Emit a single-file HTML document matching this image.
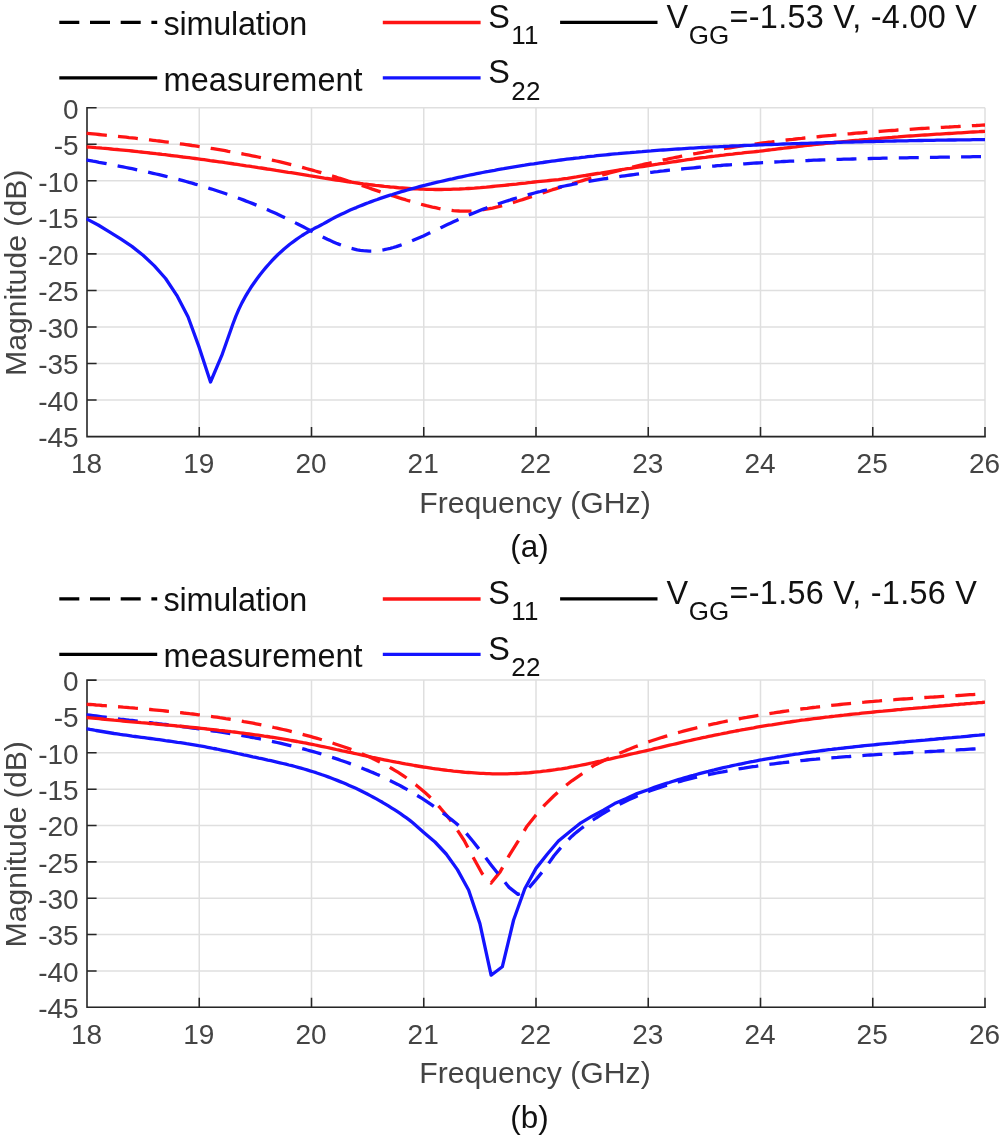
<!DOCTYPE html>
<html lang="en"><head><meta charset="utf-8"><title>S-parameters: simulation vs measurement</title>
<style>html,body{margin:0;padding:0;background:#fff}svg{display:block}text{font-family:"Liberation Sans",sans-serif}</style></head><body>
<svg width="1000" height="1135" viewBox="0 0 1000 1135">
<rect width="1000" height="1135" fill="#fff"/>
<g id="pa">
<path d="M87.00,107.70V436.60M199.25,107.70V436.60M311.50,107.70V436.60M423.75,107.70V436.60M536.00,107.70V436.60M648.25,107.70V436.60M760.50,107.70V436.60M872.75,107.70V436.60M985.00,107.70V436.60M87.00,107.70H985.00M87.00,144.24H985.00M87.00,180.79H985.00M87.00,217.33H985.00M87.00,253.88H985.00M87.00,290.42H985.00M87.00,326.97H985.00M87.00,363.51H985.00M87.00,400.06H985.00M87.00,436.60H985.00" stroke="#dfdfdf" stroke-width="1.5" fill="none"/>
<path d="M87.00,106.90V436.60H985.90M199.25,436.60v-9.6M311.50,436.60v-9.6M423.75,436.60v-9.6M536.00,436.60v-9.6M648.25,436.60v-9.6M760.50,436.60v-9.6M872.75,436.60v-9.6M985.00,436.60v-9.6M87.00,107.70h9.6M87.00,144.24h9.6M87.00,180.79h9.6M87.00,217.33h9.6M87.00,253.88h9.6M87.00,290.42h9.6M87.00,326.97h9.6M87.00,363.51h9.6M87.00,400.06h9.6" stroke="#262626" stroke-width="1.55" fill="none"/>
<clipPath id="clippa"><rect x="86.4" y="105.7" width="898.6" height="332.90000000000003"/></clipPath>
<g clip-path="url(#clippa)" fill="none" stroke-width="3.3" stroke-linejoin="round">
<path d="M86.3,133.26L87.3,133.36" stroke="#ff1414"/>
<path d="M87.0,133.3 L90.0,133.6 L93.0,133.9 L96.0,134.2 L99.0,134.5 L102.0,134.8 L105.0,135.1 L108.0,135.4 L111.0,135.7 L114.0,136.0 L117.0,136.3 L120.0,136.6 L123.0,136.9 L126.0,137.2 L129.0,137.6 L132.1,137.9 L135.1,138.2 L138.1,138.6 L141.1,138.9 L144.1,139.2 L147.1,139.6 L150.1,139.9 L153.1,140.3 L156.1,140.7 L159.1,141.0 L162.1,141.4 L165.1,141.8 L168.1,142.2 L171.1,142.6 L174.1,142.9 L177.1,143.4 L180.1,143.8 L183.1,144.2 L186.1,144.6 L189.1,145.0 L192.1,145.5 L195.1,145.9 L198.1,146.3 L201.1,146.8 L204.1,147.3 L207.1,147.7 L210.1,148.2 L213.1,148.7 L216.1,149.2 L219.1,149.7 L222.2,150.2 L225.2,150.7 L228.2,151.3 L231.2,151.8 L234.2,152.3 L237.2,152.9 L240.2,153.5 L243.2,154.0 L246.2,154.6 L249.2,155.2 L252.2,155.8 L255.2,156.4 L258.2,157.0 L261.2,157.7 L264.2,158.3 L267.2,159.0 L270.2,159.6 L273.2,160.3 L276.2,161.0 L279.2,161.7 L282.2,162.4 L285.2,163.1 L288.2,163.8 L291.2,164.6 L294.2,165.3 L297.2,166.1 L300.2,166.9 L303.2,167.7 L306.2,168.5 L309.2,169.3 L312.3,170.1 L315.3,171.0 L318.3,171.8 L321.3,172.7 L324.3,173.6 L327.3,174.5 L330.3,175.4 L333.3,176.3 L336.3,177.2 L339.3,178.2 L342.3,179.1 L345.3,180.1 L348.3,181.1 L351.3,182.0 L354.3,183.0 L357.3,184.0 L360.3,185.0 L363.3,186.0 L366.3,187.0 L369.3,188.0 L372.3,189.1 L375.3,190.1 L378.3,191.1 L381.3,192.1 L384.3,193.0 L387.3,194.0 L390.3,195.0 L393.3,196.0 L396.3,196.9 L399.3,197.9 L402.4,198.8 L405.4,199.7 L408.4,200.7 L411.4,201.5 L414.4,202.4 L417.4,203.3 L420.4,204.1 L423.4,204.9 L426.4,205.7 L429.4,206.4 L432.4,207.1 L435.4,207.7 L438.4,208.4 L441.4,208.9 L444.4,209.4 L447.4,209.9 L450.4,210.2 L453.4,210.6 L456.4,210.8 L459.4,211.0 L462.4,211.1 L465.4,211.2 L468.4,211.1 L471.4,211.0 L474.4,210.8 L477.4,210.5 L480.4,210.2 L483.4,209.7 L486.4,209.2 L489.4,208.7 L492.5,208.1 L495.5,207.4 L498.5,206.7 L501.5,205.9 L504.5,205.1 L507.5,204.2 L510.5,203.3 L513.5,202.4 L516.5,201.5 L519.5,200.5 L522.5,199.6 L525.5,198.6 L528.5,197.6 L531.5,196.6 L534.5,195.6 L537.5,194.6 L540.5,193.6 L543.5,192.6 L546.5,191.7 L549.5,190.7 L552.5,189.7 L555.5,188.8 L558.5,187.9 L561.5,186.9 L564.5,186.0 L567.5,185.1 L570.5,184.2 L573.5,183.3 L576.5,182.4 L579.5,181.5 L582.6,180.6 L585.6,179.7 L588.6,178.8 L591.6,178.0 L594.6,177.1 L597.6,176.3 L600.6,175.4 L603.6,174.6 L606.6,173.8 L609.6,173.0 L612.6,172.2 L615.6,171.4 L618.6,170.6 L621.6,169.8 L624.6,169.1 L627.6,168.3 L630.6,167.6 L633.6,166.8 L636.6,166.1 L639.6,165.4 L642.6,164.7 L645.6,163.9 L648.6,163.3 L651.6,162.6 L654.6,161.9 L657.6,161.2 L660.6,160.6 L663.6,159.9 L666.6,159.3 L669.6,158.6 L672.7,158.0 L675.7,157.4 L678.7,156.8 L681.7,156.2 L684.7,155.6 L687.7,155.0 L690.7,154.5 L693.7,153.9 L696.7,153.4 L699.7,152.8 L702.7,152.3 L705.7,151.7 L708.7,151.2 L711.7,150.7 L714.7,150.2 L717.7,149.7 L720.7,149.2 L723.7,148.7 L726.7,148.2 L729.7,147.8 L732.7,147.3 L735.7,146.8 L738.7,146.4 L741.7,145.9 L744.7,145.5 L747.7,145.1 L750.7,144.7 L753.7,144.2 L756.7,143.8 L759.7,143.4 L762.8,143.0 L765.8,142.6 L768.8,142.2 L771.8,141.9 L774.8,141.5 L777.8,141.1 L780.8,140.8 L783.8,140.4 L786.8,140.0 L789.8,139.7 L792.8,139.4 L795.8,139.0 L798.8,138.7 L801.8,138.4 L804.8,138.0 L807.8,137.7 L810.8,137.4 L813.8,137.1 L816.8,136.8 L819.8,136.5 L822.8,136.2 L825.8,135.9 L828.8,135.6 L831.8,135.4 L834.8,135.1 L837.8,134.8 L840.8,134.5 L843.8,134.3 L846.8,134.0 L849.8,133.8 L852.9,133.5 L855.9,133.2 L858.9,133.0 L861.9,132.8 L864.9,132.5 L867.9,132.3 L870.9,132.0 L873.9,131.8 L876.9,131.6 L879.9,131.4 L882.9,131.1 L885.9,130.9 L888.9,130.7 L891.9,130.5 L894.9,130.3 L897.9,130.0 L900.9,129.8 L903.9,129.7 L906.9,129.5 L909.9,129.3 L912.9,129.1 L915.9,128.9 L918.9,128.7 L921.9,128.5 L924.9,128.4 L927.9,128.2 L930.9,128.0 L933.9,127.8 L936.9,127.7 L939.9,127.5 L943.0,127.3 L946.0,127.1 L949.0,127.0 L952.0,126.8 L955.0,126.6 L958.0,126.5 L961.0,126.3 L964.0,126.1 L967.0,126.0 L970.0,125.8 L973.0,125.6 L976.0,125.5 L979.0,125.3 L982.0,125.1 L985.0,125.0" stroke="#ff1414" stroke-dasharray="19.95 11.2"/>
<path d="M86.3,159.97L87.3,160.15" stroke="#1414ff"/>
<path d="M87.0,160.1 L90.0,160.6 L93.0,161.2 L96.0,161.7 L99.0,162.3 L102.0,162.8 L105.0,163.4 L108.0,164.0 L111.0,164.5 L114.0,165.1 L117.0,165.7 L120.0,166.3 L123.0,166.9 L126.0,167.5 L129.0,168.1 L132.1,168.7 L135.1,169.3 L138.1,170.0 L141.1,170.6 L144.1,171.3 L147.1,171.9 L150.1,172.6 L153.1,173.3 L156.1,174.0 L159.1,174.7 L162.1,175.4 L165.1,176.1 L168.1,176.9 L171.1,177.6 L174.1,178.4 L177.1,179.1 L180.1,179.9 L183.1,180.7 L186.1,181.5 L189.1,182.4 L192.1,183.2 L195.1,184.1 L198.1,184.9 L201.1,185.8 L204.1,186.7 L207.1,187.6 L210.1,188.6 L213.1,189.5 L216.1,190.5 L219.1,191.5 L222.2,192.5 L225.2,193.5 L228.2,194.5 L231.2,195.5 L234.2,196.6 L237.2,197.7 L240.2,198.8 L243.2,199.9 L246.2,201.1 L249.2,202.2 L252.2,203.4 L255.2,204.6 L258.2,205.8 L261.2,207.1 L264.2,208.4 L267.2,209.6 L270.2,211.0 L273.2,212.3 L276.2,213.6 L279.2,215.0 L282.2,216.4 L285.2,217.8 L288.2,219.3 L291.2,220.7 L294.2,222.2 L297.2,223.7 L300.2,225.3 L303.2,226.8 L306.2,228.4 L309.2,230.0 L312.3,231.6 L315.3,233.2 L318.3,234.7 L321.3,236.2 L324.3,237.7 L327.3,239.2 L330.3,240.6 L333.3,241.9 L336.3,243.2 L339.3,244.4 L342.3,245.5 L345.3,246.6 L348.3,247.5 L351.3,248.4 L354.3,249.1 L357.3,249.8 L360.3,250.3 L363.3,250.7 L366.3,250.9 L369.3,251.1 L372.3,251.1 L375.3,250.9 L378.3,250.6 L381.3,250.2 L384.3,249.7 L387.3,249.0 L390.3,248.3 L393.3,247.5 L396.3,246.6 L399.3,245.6 L402.4,244.5 L405.4,243.4 L408.4,242.3 L411.4,241.1 L414.4,239.8 L417.4,238.5 L420.4,237.2 L423.4,235.9 L426.4,234.5 L429.4,233.1 L432.4,231.7 L435.4,230.3 L438.4,228.9 L441.4,227.4 L444.4,226.0 L447.4,224.6 L450.4,223.2 L453.4,221.8 L456.4,220.4 L459.4,219.0 L462.4,217.7 L465.4,216.4 L468.4,215.1 L471.4,213.9 L474.4,212.7 L477.4,211.5 L480.4,210.3 L483.4,209.1 L486.4,208.0 L489.4,206.9 L492.5,205.8 L495.5,204.8 L498.5,203.8 L501.5,202.8 L504.5,201.8 L507.5,200.8 L510.5,199.9 L513.5,198.9 L516.5,198.0 L519.5,197.1 L522.5,196.3 L525.5,195.4 L528.5,194.6 L531.5,193.8 L534.5,193.0 L537.5,192.2 L540.5,191.5 L543.5,190.7 L546.5,190.0 L549.5,189.3 L552.5,188.6 L555.5,187.9 L558.5,187.3 L561.5,186.6 L564.5,186.0 L567.5,185.4 L570.5,184.8 L573.5,184.2 L576.5,183.6 L579.5,183.0 L582.6,182.5 L585.6,181.9 L588.6,181.4 L591.6,180.9 L594.6,180.4 L597.6,179.9 L600.6,179.4 L603.6,178.9 L606.6,178.5 L609.6,178.0 L612.6,177.5 L615.6,177.1 L618.6,176.7 L621.6,176.2 L624.6,175.8 L627.6,175.4 L630.6,175.0 L633.6,174.6 L636.6,174.2 L639.6,173.8 L642.6,173.4 L645.6,173.0 L648.6,172.6 L651.6,172.3 L654.6,171.9 L657.6,171.6 L660.6,171.2 L663.6,170.9 L666.6,170.5 L669.6,170.2 L672.7,169.9 L675.7,169.6 L678.7,169.3 L681.7,169.0 L684.7,168.7 L687.7,168.4 L690.7,168.1 L693.7,167.8 L696.7,167.5 L699.7,167.2 L702.7,167.0 L705.7,166.7 L708.7,166.5 L711.7,166.2 L714.7,166.0 L717.7,165.7 L720.7,165.5 L723.7,165.2 L726.7,165.0 L729.7,164.8 L732.7,164.6 L735.7,164.4 L738.7,164.2 L741.7,164.0 L744.7,163.8 L747.7,163.6 L750.7,163.4 L753.7,163.2 L756.7,163.0 L759.7,162.8 L762.8,162.6 L765.8,162.5 L768.8,162.3 L771.8,162.1 L774.8,162.0 L777.8,161.8 L780.8,161.7 L783.8,161.5 L786.8,161.4 L789.8,161.2 L792.8,161.1 L795.8,161.0 L798.8,160.8 L801.8,160.7 L804.8,160.6 L807.8,160.5 L810.8,160.3 L813.8,160.2 L816.8,160.1 L819.8,160.0 L822.8,159.9 L825.8,159.8 L828.8,159.7 L831.8,159.6 L834.8,159.5 L837.8,159.4 L840.8,159.3 L843.8,159.2 L846.8,159.1 L849.8,159.1 L852.9,159.0 L855.9,158.9 L858.9,158.8 L861.9,158.7 L864.9,158.7 L867.9,158.6 L870.9,158.5 L873.9,158.4 L876.9,158.4 L879.9,158.3 L882.9,158.2 L885.9,158.2 L888.9,158.1 L891.9,158.1 L894.9,158.0 L897.9,157.9 L900.9,157.9 L903.9,157.8 L906.9,157.8 L909.9,157.7 L912.9,157.7 L915.9,157.6 L918.9,157.6 L921.9,157.5 L924.9,157.5 L927.9,157.4 L930.9,157.4 L933.9,157.3 L936.9,157.3 L939.9,157.2 L943.0,157.2 L946.0,157.1 L949.0,157.1 L952.0,157.0 L955.0,157.0 L958.0,157.0 L961.0,156.9 L964.0,156.9 L967.0,156.8 L970.0,156.8 L973.0,156.7 L976.0,156.7 L979.0,156.6 L982.0,156.6 L985.0,156.5" stroke="#1414ff" stroke-dasharray="19.95 11.2"/>
<path d="M86.3,146.91L87.3,146.98" stroke="#ff1414"/>
<path d="M87.0,147.0 L90.0,147.2 L93.0,147.4 L96.0,147.7 L99.0,147.9 L102.0,148.2 L105.0,148.4 L108.0,148.7 L111.0,149.0 L114.0,149.3 L117.0,149.5 L120.0,149.8 L123.0,150.1 L126.0,150.4 L129.0,150.7 L132.1,151.0 L135.1,151.3 L138.1,151.7 L141.1,152.0 L144.1,152.3 L147.1,152.6 L150.1,153.0 L153.1,153.3 L156.1,153.7 L159.1,154.0 L162.1,154.4 L165.1,154.7 L168.1,155.1 L171.1,155.5 L174.1,155.8 L177.1,156.2 L180.1,156.6 L183.1,157.0 L186.1,157.3 L189.1,157.7 L192.1,158.1 L195.1,158.5 L198.1,158.9 L201.1,159.3 L204.1,159.7 L207.1,160.1 L210.1,160.6 L213.1,161.0 L216.1,161.4 L219.1,161.8 L222.2,162.2 L225.2,162.7 L228.2,163.1 L231.2,163.5 L234.2,164.0 L237.2,164.4 L240.2,164.9 L243.2,165.3 L246.2,165.8 L249.2,166.2 L252.2,166.7 L255.2,167.1 L258.2,167.6 L261.2,168.0 L264.2,168.5 L267.2,169.0 L270.2,169.4 L273.2,169.9 L276.2,170.4 L279.2,170.8 L282.2,171.3 L285.2,171.8 L288.2,172.3 L291.2,172.7 L294.2,173.2 L297.2,173.7 L300.2,174.2 L303.2,174.7 L306.2,175.2 L309.2,175.7 L312.3,176.1 L315.3,176.6 L318.3,177.1 L321.3,177.6 L324.3,178.1 L327.3,178.5 L330.3,179.0 L333.3,179.5 L336.3,180.0 L339.3,180.4 L342.3,180.9 L345.3,181.3 L348.3,181.8 L351.3,182.2 L354.3,182.6 L357.3,183.0 L360.3,183.5 L363.3,183.9 L366.3,184.2 L369.3,184.6 L372.3,185.0 L375.3,185.4 L378.3,185.7 L381.3,186.0 L384.3,186.4 L387.3,186.7 L390.3,187.0 L393.3,187.2 L396.3,187.5 L399.3,187.8 L402.4,188.0 L405.4,188.2 L408.4,188.4 L411.4,188.6 L414.4,188.8 L417.4,188.9 L420.4,189.1 L423.4,189.2 L426.4,189.3 L429.4,189.4 L432.4,189.4 L435.4,189.5 L438.4,189.5 L441.4,189.5 L444.4,189.4 L447.4,189.4 L450.4,189.3 L453.4,189.2 L456.4,189.1 L459.4,189.0 L462.4,188.8 L465.4,188.7 L468.4,188.5 L471.4,188.3 L474.4,188.1 L477.4,187.8 L480.4,187.6 L483.4,187.3 L486.4,187.1 L489.4,186.8 L492.5,186.5 L495.5,186.2 L498.5,185.9 L501.5,185.6 L504.5,185.3 L507.5,185.0 L510.5,184.7 L513.5,184.4 L516.5,184.1 L519.5,183.7 L522.5,183.4 L525.5,183.1 L528.5,182.7 L531.5,182.4 L534.5,182.0 L537.5,181.7 L540.5,181.4 L543.5,181.1 L546.5,180.8 L549.5,180.5 L552.5,180.2 L555.5,179.9 L558.5,179.6 L561.5,179.2 L564.5,178.7 L567.5,178.3 L570.5,177.8 L573.5,177.3 L576.5,176.9 L579.5,176.4 L582.6,175.9 L585.6,175.5 L588.6,175.0 L591.6,174.5 L594.6,174.0 L597.6,173.5 L600.6,173.1 L603.6,172.6 L606.6,172.1 L609.6,171.6 L612.6,171.1 L615.6,170.6 L618.6,170.1 L621.6,169.6 L624.6,169.2 L627.6,168.7 L630.6,168.3 L633.6,167.8 L636.6,167.4 L639.6,166.9 L642.6,166.5 L645.6,166.0 L648.6,165.5 L651.6,165.1 L654.6,164.6 L657.6,164.2 L660.6,163.7 L663.6,163.3 L666.6,162.8 L669.6,162.4 L672.7,161.9 L675.7,161.5 L678.7,161.0 L681.7,160.6 L684.7,160.2 L687.7,159.7 L690.7,159.3 L693.7,158.9 L696.7,158.4 L699.7,158.0 L702.7,157.6 L705.7,157.3 L708.7,156.9 L711.7,156.5 L714.7,156.2 L717.7,155.8 L720.7,155.4 L723.7,155.1 L726.7,154.7 L729.7,154.4 L732.7,154.1 L735.7,153.7 L738.7,153.4 L741.7,153.1 L744.7,152.7 L747.7,152.4 L750.7,152.1 L753.7,151.8 L756.7,151.5 L759.7,151.2 L762.8,150.8 L765.8,150.4 L768.8,150.0 L771.8,149.7 L774.8,149.3 L777.8,148.9 L780.8,148.5 L783.8,148.2 L786.8,147.8 L789.8,147.5 L792.8,147.1 L795.8,146.8 L798.8,146.4 L801.8,146.1 L804.8,145.7 L807.8,145.4 L810.8,145.1 L813.8,144.7 L816.8,144.4 L819.8,144.1 L822.8,143.8 L825.8,143.4 L828.8,143.1 L831.8,142.8 L834.8,142.5 L837.8,142.2 L840.8,141.9 L843.8,141.6 L846.8,141.3 L849.8,141.0 L852.9,140.7 L855.9,140.4 L858.9,140.2 L861.9,139.9 L864.9,139.6 L867.9,139.4 L870.9,139.1 L873.9,138.9 L876.9,138.6 L879.9,138.4 L882.9,138.1 L885.9,137.8 L888.9,137.6 L891.9,137.4 L894.9,137.1 L897.9,136.9 L900.9,136.6 L903.9,136.4 L906.9,136.2 L909.9,136.0 L912.9,135.8 L915.9,135.6 L918.9,135.4 L921.9,135.2 L924.9,135.0 L927.9,134.8 L930.9,134.6 L933.9,134.4 L936.9,134.2 L939.9,134.1 L943.0,133.9 L946.0,133.7 L949.0,133.5 L952.0,133.3 L955.0,133.1 L958.0,132.9 L961.0,132.8 L964.0,132.6 L967.0,132.4 L970.0,132.2 L973.0,132.0 L976.0,131.8 L979.0,131.7 L982.0,131.5 L985.0,131.3" stroke="#ff1414"/>
<path d="M86.3,218.73L87.3,219.26" stroke="#1414ff"/>
<path d="M87.0,219.1 L98.2,225.0 L109.4,231.8 L120.7,238.9 L131.9,246.4 L143.1,255.3 L154.4,265.9 L165.6,278.5 L176.8,295.3 L188.0,316.8 L199.2,347.4 L210.5,382.0 L221.7,355.7 L232.9,324.0 L235.9,316.1 L238.9,309.1 L241.9,302.9 L245.0,297.2 L248.0,292.1 L251.0,287.3 L254.0,283.0 L257.0,278.8 L260.0,274.8 L263.0,271.0 L266.0,267.4 L269.0,264.0 L272.0,260.7 L275.0,257.5 L278.0,254.5 L281.1,251.7 L284.1,249.0 L287.1,246.5 L290.1,244.0 L293.1,241.8 L296.1,239.6 L299.1,237.5 L302.1,235.5 L305.1,233.7 L308.1,231.9 L311.1,230.2 L314.1,228.6 L317.2,227.1 L320.2,225.5 L323.2,223.9 L326.2,222.2 L329.2,220.5 L332.2,218.9 L335.2,217.3 L338.2,215.8 L341.2,214.3 L344.2,212.9 L347.2,211.5 L350.2,210.1 L353.3,208.8 L356.3,207.6 L359.3,206.3 L362.3,205.1 L365.3,203.9 L368.3,202.8 L371.3,201.6 L374.3,200.5 L377.3,199.5 L380.3,198.4 L383.3,197.4 L386.3,196.4 L389.4,195.4 L392.4,194.5 L395.4,193.5 L398.4,192.6 L401.4,191.7 L404.4,190.8 L407.4,190.0 L410.4,189.1 L413.4,188.3 L416.4,187.5 L419.4,186.7 L422.4,185.9 L425.5,185.2 L428.5,184.4 L431.5,183.7 L434.5,182.9 L437.5,182.2 L440.5,181.5 L443.5,180.8 L446.5,180.1 L449.5,179.4 L452.5,178.8 L455.5,178.1 L458.5,177.4 L461.6,176.8 L464.6,176.2 L467.6,175.5 L470.6,174.9 L473.6,174.3 L476.6,173.7 L479.6,173.1 L482.6,172.5 L485.6,171.9 L488.6,171.4 L491.6,170.8 L494.6,170.3 L497.7,169.7 L500.7,169.2 L503.7,168.7 L506.7,168.1 L509.7,167.6 L512.7,167.1 L515.7,166.6 L518.7,166.1 L521.7,165.6 L524.7,165.2 L527.7,164.7 L530.7,164.2 L533.8,163.8 L536.8,163.3 L539.8,162.9 L542.8,162.5 L545.8,162.0 L548.8,161.6 L551.8,161.2 L554.8,160.8 L557.8,160.4 L560.8,160.0 L563.8,159.6 L566.8,159.2 L569.9,158.8 L572.9,158.5 L575.9,158.1 L578.9,157.8 L581.9,157.4 L584.9,157.1 L587.9,156.7 L590.9,156.4 L593.9,156.1 L596.9,155.7 L599.9,155.4 L602.9,155.1 L606.0,154.8 L609.0,154.5 L612.0,154.2 L615.0,153.9 L618.0,153.7 L621.0,153.4 L624.0,153.1 L627.0,152.8 L630.0,152.6 L633.0,152.3 L636.0,152.1 L639.0,151.8 L642.1,151.6 L645.1,151.3 L648.1,151.1 L651.1,150.9 L654.1,150.6 L657.1,150.4 L660.1,150.2 L663.1,150.0 L666.1,149.8 L669.1,149.6 L672.1,149.4 L675.1,149.2 L678.2,149.0 L681.2,148.8 L684.2,148.6 L687.2,148.4 L690.2,148.2 L693.2,148.1 L696.2,147.9 L699.2,147.7 L702.2,147.5 L705.2,147.4 L708.2,147.2 L711.2,147.1 L714.3,146.9 L717.3,146.8 L720.3,146.6 L723.3,146.5 L726.3,146.3 L729.3,146.2 L732.3,146.0 L735.3,145.9 L738.3,145.8 L741.3,145.6 L744.3,145.5 L747.3,145.4 L750.4,145.3 L753.4,145.1 L756.4,145.0 L759.4,144.9 L762.4,144.8 L765.4,144.7 L768.4,144.6 L771.4,144.5 L774.4,144.4 L777.4,144.3 L780.4,144.1 L783.4,144.0 L786.5,143.9 L789.5,143.8 L792.5,143.7 L795.5,143.6 L798.5,143.6 L801.5,143.5 L804.5,143.4 L807.5,143.3 L810.5,143.2 L813.5,143.1 L816.5,143.0 L819.5,142.9 L822.6,142.8 L825.6,142.7 L828.6,142.6 L831.6,142.6 L834.6,142.5 L837.6,142.4 L840.6,142.3 L843.6,142.2 L846.6,142.1 L849.6,142.1 L852.6,142.0 L855.6,141.9 L858.7,141.8 L861.7,141.8 L864.7,141.7 L867.7,141.6 L870.7,141.5 L873.7,141.5 L876.7,141.4 L879.7,141.3 L882.7,141.3 L885.7,141.2 L888.7,141.1 L891.7,141.1 L894.8,141.0 L897.8,140.9 L900.8,140.9 L903.8,140.8 L906.8,140.8 L909.8,140.7 L912.8,140.6 L915.8,140.6 L918.8,140.5 L921.8,140.5 L924.8,140.4 L927.8,140.4 L930.9,140.3 L933.9,140.3 L936.9,140.2 L939.9,140.2 L942.9,140.1 L945.9,140.1 L948.9,140.0 L951.9,140.0 L954.9,140.0 L957.9,139.9 L960.9,139.9 L963.9,139.8 L967.0,139.8 L970.0,139.8 L973.0,139.7 L976.0,139.7 L979.0,139.7 L982.0,139.6 L985.0,139.6" stroke="#1414ff"/>
</g>
<g font-size="28" fill="#444">
<text x="78.6" y="118.5" text-anchor="end">0</text>
<text x="78.6" y="155.0" text-anchor="end">-5</text>
<text x="78.6" y="191.6" text-anchor="end">-10</text>
<text x="78.6" y="228.1" text-anchor="end">-15</text>
<text x="78.6" y="264.7" text-anchor="end">-20</text>
<text x="78.6" y="301.2" text-anchor="end">-25</text>
<text x="78.6" y="337.8" text-anchor="end">-30</text>
<text x="78.6" y="374.3" text-anchor="end">-35</text>
<text x="78.6" y="410.9" text-anchor="end">-40</text>
<text x="78.6" y="447.4" text-anchor="end">-45</text>
<text x="86.5" y="473.2" text-anchor="middle">18</text>
<text x="198.8" y="473.2" text-anchor="middle">19</text>
<text x="311.0" y="473.2" text-anchor="middle">20</text>
<text x="423.2" y="473.2" text-anchor="middle">21</text>
<text x="535.5" y="473.2" text-anchor="middle">22</text>
<text x="647.8" y="473.2" text-anchor="middle">23</text>
<text x="760.0" y="473.2" text-anchor="middle">24</text>
<text x="872.2" y="473.2" text-anchor="middle">25</text>
<text x="984.5" y="473.2" text-anchor="middle">26</text>
</g>
<text x="535" y="512.6" font-size="30.2" fill="#444" text-anchor="middle">Frequency (GHz)</text>
<text transform="translate(26.4,272.8) rotate(-90)" font-size="30.2" fill="#444" text-anchor="middle">Magnitude (dB)</text>
<text x="529.5" y="557.0" font-size="31.4" fill="#111" text-anchor="middle">(a)</text>
<g fill="none" stroke-width="3.3">
<path d="M59.3,22.4H157.2" stroke="#000" stroke-dasharray="20 10.7"/>
<path d="M59.3,77.8H157.2" stroke="#000"/>
<path d="M382.8,22.5H480.6" stroke="#ff1414"/>
<path d="M382.8,77.8H480.6" stroke="#1414ff"/>
<path d="M560.1,22.4H657.5" stroke="#000"/>
</g>
<g font-size="32.4" fill="#111">
<text x="163.6" y="34.8" letter-spacing="-0.25">simulation</text>
<text x="163.6" y="90.6" letter-spacing="0.1">measurement</text>
<text x="488.3" y="27.6">S<tspan font-size="26" dx="1.3" dy="16.2" letter-spacing="0.3">11</tspan></text>
<text x="488.3" y="83.2">S<tspan font-size="26" dx="1.3" dy="16.6" letter-spacing="0.3">22</tspan></text>
<text x="666.6" y="27.5">V<tspan font-size="26" x="688.8" dy="16.2">GG</tspan><tspan x="729.6" dy="-16.2" letter-spacing="0.28">=-1.53 V, -4.00 V</tspan></text>
</g>
</g>
<g id="pb">
<path d="M87.00,680.10V1007.30M199.25,680.10V1007.30M311.50,680.10V1007.30M423.75,680.10V1007.30M536.00,680.10V1007.30M648.25,680.10V1007.30M760.50,680.10V1007.30M872.75,680.10V1007.30M985.00,680.10V1007.30M87.00,680.10H985.00M87.00,716.46H985.00M87.00,752.81H985.00M87.00,789.17H985.00M87.00,825.52H985.00M87.00,861.88H985.00M87.00,898.23H985.00M87.00,934.59H985.00M87.00,970.94H985.00M87.00,1007.30H985.00" stroke="#dfdfdf" stroke-width="1.5" fill="none"/>
<path d="M87.00,679.30V1007.30H985.90M199.25,1007.30v-9.6M311.50,1007.30v-9.6M423.75,1007.30v-9.6M536.00,1007.30v-9.6M648.25,1007.30v-9.6M760.50,1007.30v-9.6M872.75,1007.30v-9.6M985.00,1007.30v-9.6M87.00,680.10h9.6M87.00,716.46h9.6M87.00,752.81h9.6M87.00,789.17h9.6M87.00,825.52h9.6M87.00,861.88h9.6M87.00,898.23h9.6M87.00,934.59h9.6M87.00,970.94h9.6" stroke="#262626" stroke-width="1.55" fill="none"/>
<clipPath id="clippb"><rect x="86.4" y="678.1" width="898.6" height="331.19999999999993"/></clipPath>
<g clip-path="url(#clippb)" fill="none" stroke-width="3.3" stroke-linejoin="round">
<path d="M86.3,704.22L87.3,704.30" stroke="#ff1414"/>
<path d="M87.0,704.3 L90.0,704.5 L93.0,704.7 L96.1,705.0 L99.1,705.2 L102.1,705.5 L105.1,705.7 L108.1,705.9 L111.1,706.2 L114.2,706.4 L117.2,706.7 L120.2,706.9 L123.2,707.2 L126.2,707.4 L129.3,707.7 L132.3,707.9 L135.3,708.2 L138.3,708.4 L141.3,708.7 L144.3,709.0 L147.4,709.3 L150.4,709.5 L153.4,709.8 L156.4,710.1 L159.4,710.4 L162.5,710.7 L165.5,711.0 L168.5,711.3 L171.5,711.6 L174.5,711.9 L177.5,712.3 L180.6,712.6 L183.6,713.0 L186.6,713.3 L189.6,713.7 L192.6,714.0 L195.6,714.4 L198.7,714.8 L201.7,715.2 L204.7,715.6 L207.7,716.0 L210.7,716.4 L213.8,716.8 L216.8,717.2 L219.8,717.7 L222.8,718.1 L225.8,718.6 L228.8,719.0 L231.9,719.5 L234.9,720.0 L237.9,720.5 L240.9,721.0 L243.9,721.6 L247.0,722.1 L250.0,722.6 L253.0,723.2 L256.0,723.8 L259.0,724.4 L262.0,725.0 L265.1,725.6 L268.1,726.2 L271.1,726.8 L274.1,727.5 L277.1,728.1 L280.2,728.8 L283.2,729.5 L286.2,730.2 L289.2,730.9 L292.2,731.7 L295.2,732.4 L298.3,733.2 L301.3,734.0 L304.3,734.8 L307.3,735.6 L310.3,736.4 L313.4,737.3 L316.4,738.1 L319.4,739.0 L322.4,739.9 L325.4,740.8 L328.4,741.8 L331.5,742.7 L334.5,743.7 L337.5,744.7 L340.5,745.7 L343.5,746.7 L346.6,747.8 L349.6,748.9 L352.6,750.0 L355.6,751.2 L358.6,752.4 L361.6,753.6 L364.7,754.9 L367.7,756.2 L370.7,757.5 L373.7,759.0 L376.7,760.4 L379.7,761.9 L382.8,763.5 L385.8,765.1 L388.8,766.8 L391.8,768.5 L394.8,770.3 L397.9,772.2 L400.9,774.1 L403.9,776.1 L406.9,778.2 L409.9,780.4 L412.9,782.6 L416.0,784.9 L419.0,787.4 L422.0,789.9 L425.0,792.6 L428.0,795.3 L431.1,798.2 L434.1,801.2 L437.1,804.4 L440.1,807.7 L443.1,811.2 L446.1,814.8 L449.2,818.6 L452.2,822.5 L455.2,826.8 L464.2,840.5 L473.1,857.3 L482.1,873.5 L491.1,883.0 L500.1,871.9 L509.1,855.6 L518.0,841.4 L527.0,826.2 L536.0,815.0 L545.0,804.6 L554.0,795.8 L562.9,787.8 L571.9,780.8 L580.9,774.6 L589.9,768.8 L592.9,766.0 L595.9,764.4 L598.9,762.9 L602.0,761.4 L605.0,759.9 L608.0,758.5 L611.0,757.0 L614.0,755.7 L617.0,754.3 L620.1,753.0 L623.1,751.7 L626.1,750.4 L629.1,749.2 L632.1,748.0 L635.1,746.8 L638.2,745.7 L641.2,744.5 L644.2,743.4 L647.2,742.3 L650.2,741.3 L653.2,740.3 L656.3,739.3 L659.3,738.3 L662.3,737.3 L665.3,736.4 L668.3,735.5 L671.3,734.6 L674.3,733.7 L677.4,732.8 L680.4,732.0 L683.4,731.2 L686.4,730.4 L689.4,729.6 L692.4,728.8 L695.5,728.1 L698.5,727.4 L701.5,726.6 L704.5,725.9 L707.5,725.3 L710.5,724.6 L713.6,723.9 L716.6,723.3 L719.6,722.6 L722.6,722.0 L725.6,721.4 L728.6,720.8 L731.7,720.2 L734.7,719.6 L737.7,719.0 L740.7,718.5 L743.7,717.9 L746.7,717.4 L749.7,716.8 L752.8,716.3 L755.8,715.8 L758.8,715.3 L761.8,714.8 L764.8,714.3 L767.8,713.8 L770.9,713.3 L773.9,712.9 L776.9,712.4 L779.9,712.0 L782.9,711.5 L785.9,711.1 L789.0,710.7 L792.0,710.2 L795.0,709.8 L798.0,709.4 L801.0,709.0 L804.0,708.6 L807.1,708.3 L810.1,707.9 L813.1,707.5 L816.1,707.2 L819.1,706.8 L822.1,706.4 L825.2,706.1 L828.2,705.8 L831.2,705.4 L834.2,705.1 L837.2,704.8 L840.2,704.5 L843.2,704.2 L846.3,703.9 L849.3,703.6 L852.3,703.3 L855.3,703.0 L858.3,702.7 L861.3,702.4 L864.4,702.2 L867.4,701.9 L870.4,701.6 L873.4,701.4 L876.4,701.1 L879.4,700.9 L882.5,700.6 L885.5,700.4 L888.5,700.1 L891.5,699.9 L894.5,699.7 L897.5,699.4 L900.6,699.2 L903.6,699.0 L906.6,698.8 L909.6,698.6 L912.6,698.4 L915.6,698.2 L918.6,697.9 L921.7,697.7 L924.7,697.5 L927.7,697.3 L930.7,697.1 L933.7,697.0 L936.7,696.8 L939.8,696.6 L942.8,696.4 L945.8,696.2 L948.8,696.0 L951.8,695.8 L954.8,695.6 L957.9,695.5 L960.9,695.3 L963.9,695.1 L966.9,694.9 L969.9,694.7 L972.9,694.6 L976.0,694.4 L979.0,694.2 L982.0,694.0 L985.0,693.9" stroke="#ff1414" stroke-dasharray="19.95 11.2"/>
<path d="M86.3,714.69L87.3,714.82" stroke="#1414ff"/>
<path d="M87.0,714.8 L90.0,715.2 L93.0,715.6 L96.1,716.0 L99.1,716.4 L102.1,716.8 L105.1,717.2 L108.1,717.6 L111.1,718.0 L114.2,718.3 L117.2,718.7 L120.2,719.1 L123.2,719.4 L126.2,719.8 L129.2,720.2 L132.3,720.5 L135.3,720.9 L138.3,721.3 L141.3,721.6 L144.3,722.0 L147.4,722.4 L150.4,722.7 L153.4,723.1 L156.4,723.4 L159.4,723.8 L162.4,724.2 L165.5,724.5 L168.5,724.9 L171.5,725.3 L174.5,725.7 L177.5,726.0 L180.5,726.4 L183.6,726.8 L186.6,727.2 L189.6,727.6 L192.6,728.0 L195.6,728.4 L198.7,728.8 L201.7,729.2 L204.7,729.7 L207.7,730.1 L210.7,730.5 L213.7,731.0 L216.8,731.4 L219.8,731.9 L222.8,732.4 L225.8,732.8 L228.8,733.3 L231.8,733.8 L234.9,734.3 L237.9,734.8 L240.9,735.3 L243.9,735.9 L246.9,736.4 L250.0,737.0 L253.0,737.5 L256.0,738.1 L259.0,738.7 L262.0,739.3 L265.0,739.9 L268.1,740.5 L271.1,741.2 L274.1,741.8 L277.1,742.5 L280.1,743.2 L283.1,743.9 L286.2,744.6 L289.2,745.3 L292.2,746.0 L295.2,746.8 L298.2,747.5 L301.2,748.3 L304.3,749.1 L307.3,750.0 L310.3,750.8 L313.3,751.6 L316.3,752.5 L319.4,753.4 L322.4,754.3 L325.4,755.2 L328.4,756.2 L331.4,757.2 L334.4,758.1 L337.5,759.1 L340.5,760.2 L343.5,761.2 L346.5,762.3 L349.5,763.4 L352.5,764.5 L355.6,765.6 L358.6,766.8 L361.6,768.0 L364.6,769.2 L367.6,770.4 L370.7,771.7 L373.7,772.9 L376.7,774.3 L379.7,775.6 L382.7,777.0 L385.7,778.4 L388.8,779.9 L391.8,781.4 L394.8,782.9 L397.8,784.4 L400.8,786.0 L403.8,787.7 L406.9,789.4 L409.9,791.1 L412.9,792.8 L415.9,794.7 L418.9,796.5 L422.0,798.4 L425.0,800.3 L428.0,802.3 L431.0,804.4 L434.0,806.5 L437.0,808.6 L440.1,810.8 L443.1,813.1 L446.1,815.4 L449.1,817.7 L452.1,820.1 L455.1,822.6 L458.2,825.1 L461.2,827.7 L464.2,830.8 L473.1,841.5 L482.1,853.0 L491.1,864.9 L500.1,876.3 L509.1,887.4 L518.0,894.4 L527.0,890.2 L536.0,879.6 L545.0,868.6 L554.0,855.8 L562.9,845.2 L571.9,836.2 L574.9,833.5 L577.9,831.1 L580.9,828.8 L584.0,826.5 L587.0,824.3 L590.0,822.1 L593.0,820.0 L596.0,818.0 L599.0,816.1 L602.1,814.2 L605.1,812.3 L608.1,810.6 L611.1,808.8 L614.1,807.2 L617.1,805.5 L620.1,804.0 L623.2,802.5 L626.2,801.0 L629.2,799.6 L632.2,798.2 L635.2,796.9 L638.2,795.6 L641.3,794.3 L644.3,793.1 L647.3,791.9 L650.3,790.8 L653.3,789.7 L656.3,788.6 L659.3,787.6 L662.4,786.6 L665.4,785.7 L668.4,784.7 L671.4,783.8 L674.4,783.0 L677.4,782.1 L680.5,781.3 L683.5,780.5 L686.5,779.7 L689.5,779.0 L692.5,778.2 L695.5,777.5 L698.5,776.8 L701.6,776.2 L704.6,775.5 L707.6,774.9 L710.6,774.2 L713.6,773.6 L716.6,773.0 L719.7,772.4 L722.7,771.9 L725.7,771.3 L728.7,770.7 L731.7,770.2 L734.7,769.7 L737.7,769.1 L740.8,768.6 L743.8,768.2 L746.8,767.7 L749.8,767.2 L752.8,766.7 L755.8,766.3 L758.9,765.8 L761.9,765.4 L764.9,765.0 L767.9,764.6 L770.9,764.2 L773.9,763.8 L776.9,763.4 L780.0,763.0 L783.0,762.7 L786.0,762.3 L789.0,762.0 L792.0,761.6 L795.0,761.3 L798.0,761.0 L801.1,760.6 L804.1,760.3 L807.1,760.0 L810.1,759.7 L813.1,759.4 L816.1,759.2 L819.2,758.9 L822.2,758.6 L825.2,758.4 L828.2,758.1 L831.2,757.8 L834.2,757.6 L837.2,757.4 L840.3,757.1 L843.3,756.9 L846.3,756.7 L849.3,756.5 L852.3,756.2 L855.3,756.0 L858.4,755.8 L861.4,755.6 L864.4,755.4 L867.4,755.2 L870.4,755.0 L873.4,754.8 L876.4,754.6 L879.5,754.4 L882.5,754.3 L885.5,754.1 L888.5,753.9 L891.5,753.7 L894.5,753.6 L897.6,753.4 L900.6,753.2 L903.6,753.0 L906.6,752.9 L909.6,752.7 L912.6,752.5 L915.6,752.4 L918.7,752.2 L921.7,752.0 L924.7,751.9 L927.7,751.7 L930.7,751.5 L933.7,751.3 L936.8,751.2 L939.8,751.0 L942.8,750.8 L945.8,750.7 L948.8,750.5 L951.8,750.3 L954.8,750.1 L957.9,749.9 L960.9,749.7 L963.9,749.6 L966.9,749.4 L969.9,749.2 L972.9,749.0 L976.0,748.8 L979.0,748.6 L982.0,748.4 L985.0,748.1" stroke="#1414ff" stroke-dasharray="19.95 11.2"/>
<path d="M86.3,717.41L87.3,717.51" stroke="#ff1414"/>
<path d="M87.0,717.5 L90.0,717.8 L93.0,718.1 L96.0,718.4 L99.0,718.7 L102.0,719.0 L105.0,719.3 L108.0,719.6 L111.0,719.9 L114.0,720.2 L117.0,720.4 L120.0,720.7 L123.0,721.0 L126.0,721.3 L129.0,721.6 L132.1,721.8 L135.1,722.1 L138.1,722.4 L141.1,722.7 L144.1,722.9 L147.1,723.2 L150.1,723.5 L153.1,723.7 L156.1,724.0 L159.1,724.3 L162.1,724.6 L165.1,724.8 L168.1,725.1 L171.1,725.4 L174.1,725.7 L177.1,726.0 L180.1,726.2 L183.1,726.5 L186.1,726.8 L189.1,727.1 L192.1,727.4 L195.1,727.7 L198.1,728.0 L201.1,728.3 L204.1,728.6 L207.1,729.0 L210.1,729.3 L213.1,729.6 L216.1,729.9 L219.1,730.3 L222.2,730.6 L225.2,731.0 L228.2,731.3 L231.2,731.7 L234.2,732.0 L237.2,732.4 L240.2,732.8 L243.2,733.2 L246.2,733.6 L249.2,734.0 L252.2,734.4 L255.2,734.8 L258.2,735.2 L261.2,735.6 L264.2,736.1 L267.2,736.5 L270.2,737.0 L273.2,737.4 L276.2,737.9 L279.2,738.4 L282.2,738.9 L285.2,739.4 L288.2,739.9 L291.2,740.5 L294.2,741.0 L297.2,741.5 L300.2,742.1 L303.2,742.7 L306.2,743.2 L309.2,743.8 L312.3,744.4 L315.3,745.0 L318.3,745.7 L321.3,746.3 L324.3,746.9 L327.3,747.5 L330.3,748.2 L333.3,748.8 L336.3,749.5 L339.3,750.1 L342.3,750.8 L345.3,751.4 L348.3,752.1 L351.3,752.7 L354.3,753.4 L357.3,754.0 L360.3,754.7 L363.3,755.3 L366.3,756.0 L369.3,756.6 L372.3,757.3 L375.3,757.9 L378.3,758.5 L381.3,759.2 L384.3,759.8 L387.3,760.4 L390.3,761.0 L393.3,761.6 L396.3,762.2 L399.3,762.7 L402.4,763.3 L405.4,763.9 L408.4,764.4 L411.4,764.9 L414.4,765.5 L417.4,766.0 L420.4,766.5 L423.4,767.0 L426.4,767.4 L429.4,767.9 L432.4,768.4 L435.4,768.8 L438.4,769.2 L441.4,769.6 L444.4,770.0 L447.4,770.4 L450.4,770.7 L453.4,771.1 L456.4,771.4 L459.4,771.7 L462.4,772.0 L465.4,772.3 L468.4,772.5 L471.4,772.7 L474.4,772.9 L477.4,773.1 L480.4,773.3 L483.4,773.4 L486.4,773.6 L489.4,773.7 L492.5,773.8 L495.5,773.8 L498.5,773.8 L501.5,773.8 L504.5,773.8 L507.5,773.8 L510.5,773.7 L513.5,773.6 L516.5,773.5 L519.5,773.4 L522.5,773.2 L525.5,773.0 L528.5,772.8 L531.5,772.5 L534.5,772.2 L537.5,771.9 L540.5,771.6 L543.5,771.2 L546.5,770.9 L549.5,770.5 L552.5,770.1 L555.5,769.7 L558.5,769.2 L561.5,768.8 L564.5,768.3 L567.5,767.8 L570.5,767.2 L573.5,766.7 L576.5,766.1 L579.5,765.5 L582.6,764.9 L585.6,764.3 L588.6,763.7 L591.6,763.0 L594.6,762.4 L597.6,761.7 L600.6,761.1 L603.6,760.4 L606.6,759.7 L609.6,759.1 L612.6,758.4 L615.6,757.7 L618.6,757.0 L621.6,756.3 L624.6,755.6 L627.6,754.9 L630.6,754.2 L633.6,753.5 L636.6,752.9 L639.6,752.2 L642.6,751.5 L645.6,750.8 L648.6,750.2 L651.6,749.5 L654.6,748.7 L657.6,748.0 L660.6,747.3 L663.6,746.6 L666.6,745.9 L669.6,745.2 L672.7,744.5 L675.7,743.8 L678.7,743.1 L681.7,742.4 L684.7,741.7 L687.7,741.0 L690.7,740.4 L693.7,739.7 L696.7,739.0 L699.7,738.4 L702.7,737.7 L705.7,737.1 L708.7,736.4 L711.7,735.8 L714.7,735.2 L717.7,734.6 L720.7,734.0 L723.7,733.3 L726.7,732.8 L729.7,732.2 L732.7,731.6 L735.7,731.0 L738.7,730.5 L741.7,729.9 L744.7,729.4 L747.7,728.8 L750.7,728.3 L753.7,727.8 L756.7,727.2 L759.7,726.7 L762.8,726.2 L765.8,725.7 L768.8,725.2 L771.8,724.8 L774.8,724.3 L777.8,723.8 L780.8,723.3 L783.8,722.9 L786.8,722.4 L789.8,722.0 L792.8,721.5 L795.8,721.1 L798.8,720.7 L801.8,720.2 L804.8,719.9 L807.8,719.5 L810.8,719.1 L813.8,718.7 L816.8,718.3 L819.8,718.0 L822.8,717.6 L825.8,717.2 L828.8,716.9 L831.8,716.5 L834.8,716.2 L837.8,715.8 L840.8,715.5 L843.8,715.2 L846.8,714.8 L849.8,714.5 L852.9,714.2 L855.9,713.9 L858.9,713.6 L861.9,713.2 L864.9,712.9 L867.9,712.6 L870.9,712.3 L873.9,712.0 L876.9,711.7 L879.9,711.4 L882.9,711.2 L885.9,710.9 L888.9,710.6 L891.9,710.3 L894.9,710.0 L897.9,709.7 L900.9,709.5 L903.9,709.2 L906.9,708.9 L909.9,708.6 L912.9,708.4 L915.9,708.1 L918.9,707.8 L921.9,707.6 L924.9,707.3 L927.9,707.1 L930.9,706.8 L933.9,706.5 L936.9,706.3 L939.9,706.0 L943.0,705.8 L946.0,705.5 L949.0,705.3 L952.0,705.0 L955.0,704.7 L958.0,704.5 L961.0,704.2 L964.0,704.0 L967.0,703.7 L970.0,703.5 L973.0,703.2 L976.0,703.0 L979.0,702.7 L982.0,702.5 L985.0,702.2" stroke="#ff1414"/>
<path d="M86.3,728.68L87.3,728.87" stroke="#1414ff"/>
<path d="M87.0,728.8 L90.0,729.4 L93.0,729.9 L96.0,730.5 L99.1,731.0 L102.1,731.5 L105.1,732.0 L108.1,732.5 L111.1,733.0 L114.1,733.5 L117.1,733.9 L120.2,734.4 L123.2,734.8 L126.2,735.2 L129.2,735.6 L132.2,736.1 L135.2,736.5 L138.2,736.9 L141.3,737.3 L144.3,737.7 L147.3,738.1 L150.3,738.5 L153.3,738.9 L156.3,739.3 L159.3,739.7 L162.4,740.1 L165.4,740.6 L168.4,741.0 L171.4,741.4 L174.4,741.8 L177.4,742.3 L180.4,742.7 L183.5,743.2 L186.5,743.7 L189.5,744.1 L192.5,744.6 L195.5,745.1 L198.5,745.7 L201.5,746.2 L204.6,746.7 L207.6,747.3 L210.6,747.9 L213.6,748.5 L216.6,749.0 L219.6,749.7 L222.6,750.3 L225.6,750.9 L228.7,751.5 L231.7,752.2 L234.7,752.8 L237.7,753.5 L240.7,754.1 L243.7,754.8 L246.7,755.4 L249.8,756.1 L252.8,756.8 L255.8,757.4 L258.8,758.1 L261.8,758.7 L264.8,759.4 L267.8,760.1 L270.9,760.7 L273.9,761.4 L276.9,762.1 L279.9,762.8 L282.9,763.5 L285.9,764.2 L288.9,765.0 L292.0,765.7 L295.0,766.5 L298.0,767.3 L301.0,768.1 L304.0,769.0 L307.0,769.9 L310.0,770.8 L313.1,771.8 L316.1,772.7 L319.1,773.7 L322.1,774.8 L325.1,775.8 L328.1,776.9 L331.1,778.0 L334.2,779.2 L337.2,780.4 L340.2,781.6 L343.2,782.8 L346.2,784.1 L349.2,785.4 L352.2,786.7 L355.3,788.1 L358.3,789.5 L361.3,791.0 L364.3,792.5 L367.3,794.0 L370.3,795.6 L373.3,797.2 L376.4,798.9 L379.4,800.6 L382.4,802.3 L385.4,804.1 L388.4,805.9 L391.4,807.8 L394.4,809.7 L397.5,811.7 L400.5,813.7 L403.5,815.8 L406.5,817.9 L409.5,820.1 L412.5,822.5 L423.8,832.4 L435.0,842.0 L446.2,854.0 L457.4,869.6 L468.6,890.0 L479.9,923.6 L491.1,975.2 L502.3,966.8 L513.6,920.0 L524.8,888.8 L536.0,868.4 L547.2,854.3 L558.4,841.0 L569.7,831.8 L580.9,822.8 L592.1,816.2 L603.4,810.2 L614.6,803.6 L625.8,798.8 L637.0,793.6 L648.2,789.8 L651.3,788.5 L654.3,787.4 L657.3,786.4 L660.3,785.4 L663.3,784.4 L666.3,783.4 L669.3,782.5 L672.3,781.5 L675.3,780.6 L678.3,779.7 L681.3,778.8 L684.3,777.9 L687.3,777.0 L690.3,776.2 L693.4,775.4 L696.4,774.5 L699.4,773.7 L702.4,772.9 L705.4,772.1 L708.4,771.4 L711.4,770.6 L714.4,769.9 L717.4,769.1 L720.4,768.4 L723.4,767.7 L726.4,767.0 L729.4,766.4 L732.4,765.7 L735.4,765.0 L738.5,764.4 L741.5,763.8 L744.5,763.2 L747.5,762.5 L750.5,761.9 L753.5,761.4 L756.5,760.8 L759.5,760.2 L762.5,759.7 L765.5,759.1 L768.5,758.6 L771.5,758.1 L774.5,757.6 L777.5,757.0 L780.5,756.6 L783.6,756.1 L786.6,755.6 L789.6,755.1 L792.6,754.7 L795.6,754.2 L798.6,753.8 L801.6,753.3 L804.6,752.9 L807.6,752.5 L810.6,752.1 L813.6,751.7 L816.6,751.3 L819.6,750.9 L822.6,750.5 L825.6,750.1 L828.7,749.7 L831.7,749.4 L834.7,749.0 L837.7,748.7 L840.7,748.3 L843.7,748.0 L846.7,747.6 L849.7,747.3 L852.7,747.0 L855.7,746.6 L858.7,746.3 L861.7,746.0 L864.7,745.7 L867.7,745.4 L870.7,745.1 L873.8,744.8 L876.8,744.5 L879.8,744.2 L882.8,743.9 L885.8,743.6 L888.8,743.3 L891.8,743.1 L894.8,742.8 L897.8,742.5 L900.8,742.2 L903.8,742.0 L906.8,741.7 L909.8,741.4 L912.8,741.1 L915.8,740.9 L918.9,740.6 L921.9,740.3 L924.9,740.1 L927.9,739.8 L930.9,739.5 L933.9,739.3 L936.9,739.0 L939.9,738.7 L942.9,738.5 L945.9,738.2 L948.9,737.9 L951.9,737.7 L954.9,737.4 L957.9,737.1 L960.9,736.9 L964.0,736.6 L967.0,736.3 L970.0,736.0 L973.0,735.7 L976.0,735.4 L979.0,735.2 L982.0,734.9 L985.0,734.6" stroke="#1414ff"/>
</g>
<g font-size="28" fill="#444">
<text x="78.6" y="690.9" text-anchor="end">0</text>
<text x="78.6" y="727.3" text-anchor="end">-5</text>
<text x="78.6" y="763.6" text-anchor="end">-10</text>
<text x="78.6" y="800.0" text-anchor="end">-15</text>
<text x="78.6" y="836.3" text-anchor="end">-20</text>
<text x="78.6" y="872.7" text-anchor="end">-25</text>
<text x="78.6" y="909.0" text-anchor="end">-30</text>
<text x="78.6" y="945.4" text-anchor="end">-35</text>
<text x="78.6" y="981.7" text-anchor="end">-40</text>
<text x="78.6" y="1018.1" text-anchor="end">-45</text>
<text x="86.5" y="1043.9" text-anchor="middle">18</text>
<text x="198.8" y="1043.9" text-anchor="middle">19</text>
<text x="311.0" y="1043.9" text-anchor="middle">20</text>
<text x="423.2" y="1043.9" text-anchor="middle">21</text>
<text x="535.5" y="1043.9" text-anchor="middle">22</text>
<text x="647.8" y="1043.9" text-anchor="middle">23</text>
<text x="760.0" y="1043.9" text-anchor="middle">24</text>
<text x="872.2" y="1043.9" text-anchor="middle">25</text>
<text x="984.5" y="1043.9" text-anchor="middle">26</text>
</g>
<text x="535" y="1083.3" font-size="30.2" fill="#444" text-anchor="middle">Frequency (GHz)</text>
<text transform="translate(26.4,844.3) rotate(-90)" font-size="30.2" fill="#444" text-anchor="middle">Magnitude (dB)</text>
<text x="529.5" y="1127.6" font-size="31.4" fill="#111" text-anchor="middle">(b)</text>
<g fill="none" stroke-width="3.3">
<path d="M59.3,598.9H157.2" stroke="#000" stroke-dasharray="20 10.7"/>
<path d="M59.3,654.3H157.2" stroke="#000"/>
<path d="M382.8,599.0H480.6" stroke="#ff1414"/>
<path d="M382.8,654.3H480.6" stroke="#1414ff"/>
<path d="M560.1,598.9H657.5" stroke="#000"/>
</g>
<g font-size="32.4" fill="#111">
<text x="163.6" y="611.3" letter-spacing="-0.25">simulation</text>
<text x="163.6" y="667.1" letter-spacing="0.1">measurement</text>
<text x="488.3" y="604.1">S<tspan font-size="26" dx="1.3" dy="16.2" letter-spacing="0.3">11</tspan></text>
<text x="488.3" y="659.7">S<tspan font-size="26" dx="1.3" dy="16.6" letter-spacing="0.3">22</tspan></text>
<text x="666.6" y="604.0">V<tspan font-size="26" x="688.8" dy="16.2">GG</tspan><tspan x="729.6" dy="-16.2" letter-spacing="0.28">=-1.56 V, -1.56 V</tspan></text>
</g>
</g>
</svg></body></html>
